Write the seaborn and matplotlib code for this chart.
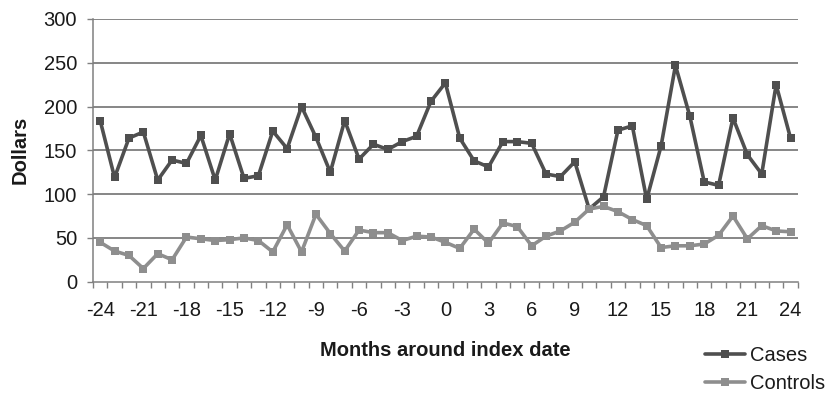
import matplotlib
matplotlib.use("Agg")
import matplotlib.pyplot as plt
import pandas as pd
import seaborn as sns

months = [-24, -23, -22, -21, -20, -19, -18, -17, -16, -15, -14, -13, -12,
          -11, -10, -9, -8, -7, -6, -5, -4, -3, -2, -1, 0, 1, 2, 3, 4, 5,
          6, 7, 8, 9, 10, 11, 12, 13, 14, 15, 16, 17, 18, 19, 20, 21, 22,
          23, 24]
cases = [184, 119, 164, 171, 116, 139, 135, 167, 116, 169, 118, 121, 172,
         152, 200, 165, 125, 184, 140, 157, 151, 160, 166, 206, 227, 164,
         138, 131, 160, 160, 158, 123, 120, 137, 83, 97, 173, 178, 94, 155,
         247, 189, 114, 110, 187, 145, 123, 225, 164]
controls = [45, 35, 30, 15, 32, 25, 51, 49, 47, 48, 50, 47, 34, 65, 34, 77,
            55, 35, 59, 56, 56, 47, 52, 51, 45, 38, 60, 44, 67, 63, 41, 52,
            58, 68, 83, 86, 80, 71, 64, 39, 41, 41, 43, 53, 75, 49, 64, 58, 57]
series_names = ["Cases", "Controls"]
x_tick_labels = [-24, -21, -18, -15, -12, -9, -6, -3, 0, 3, 6, 9, 12, 15, 18, 21, 24]
y_ticks = [0, 50, 100, 150, 200, 250, 300]

df = pd.concat([
    pd.DataFrame({"Month": months, "Dollars": cases, "Series": series_names[0]}),
    pd.DataFrame({"Month": months, "Dollars": controls, "Series": series_names[1]}),
])

sns.set_theme(style="white")
plt.rcParams["font.family"] = ["Liberation Sans", "DejaVu Sans"]
plt.rcParams["axes.unicode_minus"] = False

fig = plt.figure(figsize=(8.26, 3.94), dpi=100)
ax = fig.add_axes([93 / 826, 1 - 281.7 / 394, 704.7 / 826, 262.7 / 394])

palette = {"Cases": "#4f4f4f", "Controls": "#8e8e8e"}
sns.lineplot(data=df, x="Month", y="Dollars", hue="Series", palette=palette,
             style="Series", markers={"Cases": "s", "Controls": "s"},
             dashes=False, linewidth=2.6, markersize=6, markeredgewidth=0,
             ax=ax, zorder=3)

ax.set_xlim(months[0] - 0.5, months[-1] + 0.5)
ax.set_ylim(y_ticks[0], y_ticks[-1])
ax.set_yticks(y_ticks)
ax.set_xticks(x_tick_labels)
ax.set_xticks([m - 0.5 for m in months] + [months[-1] + 0.5], minor=True)

for y in y_ticks[1:]:
    ax.axhline(y, color="#666666", linewidth=1.1, zorder=1)

for side in ["top", "right"]:
    ax.spines[side].set_visible(False)
for side in ["left", "bottom"]:
    ax.spines[side].set_color("#808080")
    ax.spines[side].set_linewidth(1.1)

ax.tick_params(axis="x", which="major", length=0, pad=14, labelsize=14.5,
               labelcolor="#1a1a1a")
ax.tick_params(axis="x", which="minor", length=4.5, width=1, color="#808080",
               direction="out", bottom=True)
ax.tick_params(axis="y", which="major", length=4.5, width=1, color="#808080",
               direction="out", pad=7, labelsize=14.5, labelcolor="#1a1a1a",
               left=True)

ax.set_xlabel("Months around index date", fontsize=14.5, fontweight="bold",
              color="#1a1a1a")
ax.set_ylabel("Dollars", fontsize=14.5, fontweight="bold", color="#1a1a1a")
ax.xaxis.label.set_va("center")
ax.yaxis.label.set_va("center")
ax.xaxis.set_label_coords(0.5, (281.7 - 350) / 262.7)
ax.yaxis.set_label_coords((20 - 93) / 704.7, 0.5)

handles, labels = ax.get_legend_handles_labels()
ax.get_legend().remove()
leg = fig.legend(handles, labels, loc="upper left",
                 bbox_to_anchor=(705 / 826, 1 - 346 / 394),
                 frameon=False, fontsize=14.5, handlelength=2.0,
                 handletextpad=0.25, labelspacing=0.45, borderpad=0,
                 borderaxespad=0)
for t in leg.get_texts():
    t.set_color("#1a1a1a")

fig.savefig("out.png", dpi=100)
